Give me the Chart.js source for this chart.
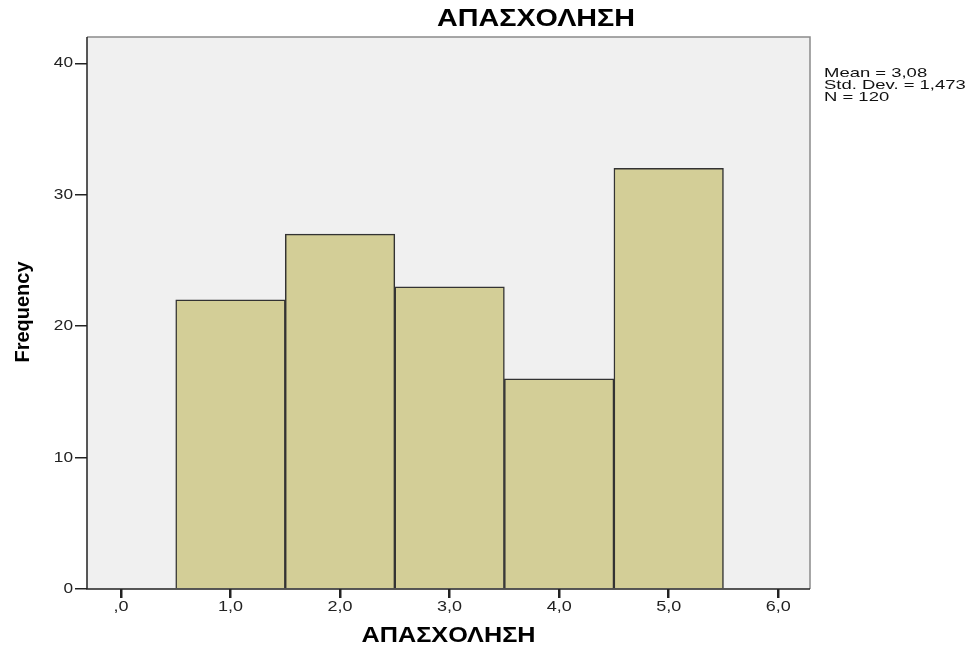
<!DOCTYPE html>
<html>
<head>
<meta charset="utf-8">
<script src="https://cdn.jsdelivr.net/npm/chart.js@4.4.0/dist/chart.umd.min.js"></script>
<style>
  html, body { margin: 0; padding: 0; background: #ffffff; }
  #wrap { width: 976px; height: 651px; position: relative; }
</style>
</head>
<body>
<div id="wrap"><canvas id="hist"></canvas></div>
<script>
// histogram data (bin centres and counts)
var binCenters = [1, 2, 3, 4, 5];
var frequencies = [22, 27, 23, 16, 32];
var yTicks = [0, 10, 20, 30, 40];
var xTicks = [0, 1, 2, 3, 4, 5, 6];
var chartTitle = 'ΑΠΑΣΧΟΛΗΣΗ';
var xTitle = 'ΑΠΑΣΧΟΛΗΣΗ';
var yTitle = 'Frequency';
var statLines = ['Mean = 3,08', 'Std. Dev. = 1,473', 'N = 120'];

var points = binCenters.map(function (c, i) { return { x: c, y: frequencies[i] }; });

function fmtX(v) {
  if (v === 0) return ',0';
  return v.toFixed(1).replace('.', ',');
}

// the source picture is stretched sideways, so text is drawn wider than normal
function wideText(ctx, txt, x, y, font, sx, align) {
  ctx.save();
  ctx.font = font;
  ctx.textBaseline = 'middle';
  ctx.textAlign = align || 'center';
  ctx.translate(x, y);
  ctx.scale(sx, 1);
  ctx.fillText(txt, 0, 0);
  ctx.restore();
}

function fitText(ctx, txt, x, y, font, width) {
  ctx.save();
  ctx.font = font;
  var sx = width / ctx.measureText(txt).width;
  ctx.restore();
  wideText(ctx, txt, x, y, font, sx, 'center');
}

var SANS = '"Liberation Sans", Arial, sans-serif';

var plotBox = {
  id: 'plotBox',
  beforeDraw: function (chart) {
    var a = chart.chartArea, ctx = chart.ctx;
    ctx.save();
    ctx.fillStyle = '#f0f0f0';
    ctx.fillRect(a.left, a.top, a.right - a.left, a.bottom - a.top);
    ctx.restore();
  },
  afterDatasetsDraw: function (chart) {
    var a = chart.chartArea, ctx = chart.ctx;
    ctx.save();
    ctx.lineWidth = 1.5;
    ctx.strokeStyle = '#8a8a8a';
    ctx.beginPath();
    ctx.moveTo(a.left, a.top);
    ctx.lineTo(a.right, a.top);
    ctx.lineTo(a.right, a.bottom);
    ctx.stroke();
    ctx.strokeStyle = '#222222';
    ctx.beginPath();
    ctx.moveTo(a.left, a.top);
    ctx.lineTo(a.left, a.bottom);
    ctx.lineTo(a.right, a.bottom);
    ctx.stroke();
    ctx.restore();
  },
  afterDraw: function (chart) {
    var ctx = chart.ctx, a = chart.chartArea;
    var xs = chart.scales.x, ys = chart.scales.y;
    ctx.save();
    ctx.fillStyle = '#000000';
    fitText(ctx, chartTitle, 536, 20, 'bold 23px ' + SANS, 198);
    fitText(ctx, xTitle, (a.left + a.right) / 2, 636, 'bold 22px ' + SANS, 174);

    // rotated y title
    ctx.save();
    ctx.translate(23, 312);
    ctx.rotate(-Math.PI / 2);
    fitText(ctx, yTitle, 0, 0, 'bold 20px ' + SANS, 101);
    ctx.restore();

    // tick labels, placed by the scales
    ctx.fillStyle = '#222222';
    xTicks.forEach(function (v) {
      wideText(ctx, fmtX(v), xs.getPixelForValue(v), 607, '15px ' + SANS, 1.2, 'center');
    });
    yTicks.forEach(function (v) {
      wideText(ctx, String(v), 73, ys.getPixelForValue(v), '15px ' + SANS, 1.15, 'right');
    });

    // stats box
    ctx.fillStyle = '#111111';
    statLines.forEach(function (s, i) {
      wideText(ctx, s, 824, 73 + i * 12, '13px ' + SANS, 1.42, 'left');
    });
    ctx.restore();
  }
};

var ctx = document.getElementById('hist').getContext('2d');
var histChart = new Chart(ctx, {
  type: 'bar',
  data: {
    datasets: [{
      label: 'Frequency',
      data: points,
      backgroundColor: '#d3ce97',
      borderColor: '#333333',
      borderWidth: 1.5,
      barPercentage: 1,
      categoryPercentage: 1
    }]
  },
  options: {
    responsive: true,
    maintainAspectRatio: false,
    animation: false,
    layout: { padding: { left: 0, right: 166, top: 37, bottom: 0 } },
    plugins: {
      legend: { display: false },
      tooltip: { enabled: false },
      title: { display: false }
    },
    scales: {
      x: {
        type: 'linear',
        min: -0.31,
        max: 6.29,
        offset: false,
        border: { display: false },
        grid: { offset: false, drawOnChartArea: false, drawTicks: true, tickLength: 9, color: '#222222', lineWidth: 2.5 },
        afterBuildTicks: function (scale) {
          scale.ticks = xTicks.map(function (v) { return { value: v }; });
        },
        ticks: { display: false },
        afterFit: function (scale) { scale.height = 62; }
      },
      y: {
        min: 0,
        max: 42,
        border: { display: false },
        grid: { drawOnChartArea: false, drawTicks: true, tickLength: 12, color: '#222222', lineWidth: 1.5 },
        afterBuildTicks: function (scale) {
          scale.ticks = yTicks.map(function (v) { return { value: v }; });
        },
        ticks: { display: false },
        afterFit: function (scale) { scale.width = 87; }
      }
    }
  },
  plugins: [plotBox]
});
</script>
</body>
</html>
